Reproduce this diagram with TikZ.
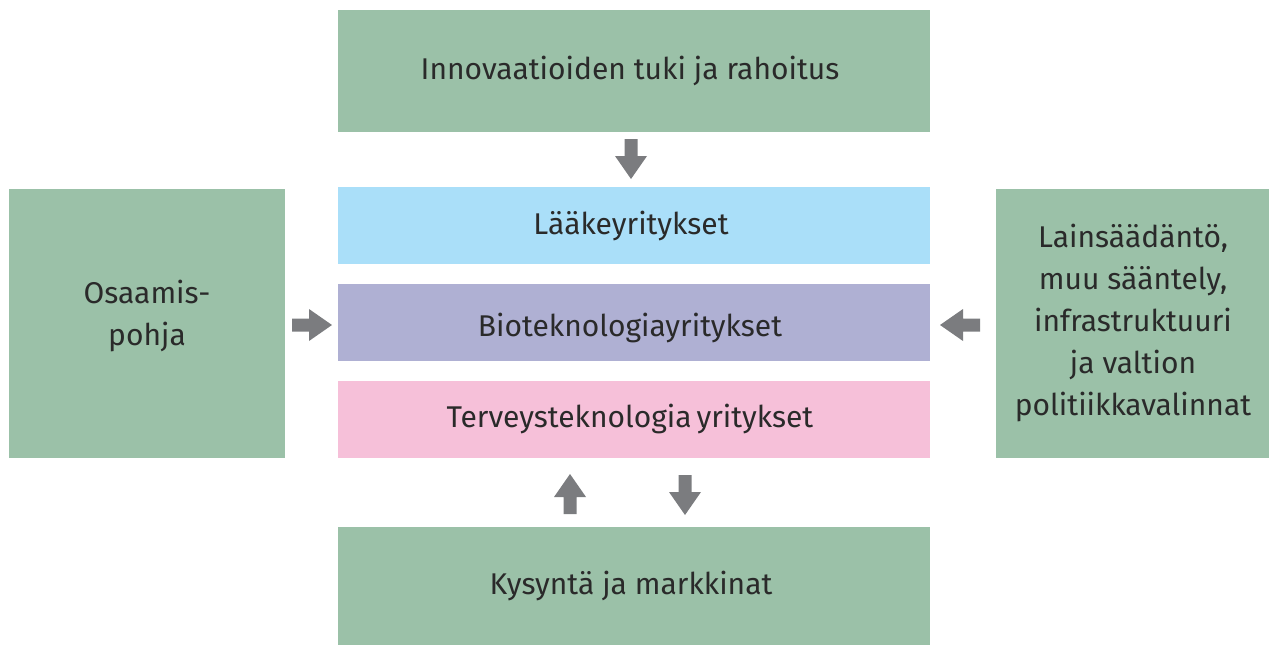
\documentclass[tikz,border=0pt]{standalone}
\usepackage{fontspec}
\setmainfont{Fira Sans}
\definecolor{boxgreen}{HTML}{9BC1A8}
\definecolor{boxblue}{HTML}{AADFF9}
\definecolor{boxlav}{HTML}{AFB0D3}
\definecolor{boxpink}{HTML}{F6C0D9}
\definecolor{arrowgray}{HTML}{7B7C7F}
\definecolor{txt}{HTML}{2A2A2A}
\begin{document}
\begin{tikzpicture}[x=1pt,y=-1pt,
  box/.style={inner sep=0pt, text=txt, font=\fontsize{30}{42}\selectfont, align=center},
  barrow/.pic={\fill[arrowgray] (-20,-6.5) -- (-3,-6.5) -- (-3,-16) -- (20,0) -- (-3,16) -- (-3,6.5) -- (-20,6.5) -- cycle;}]
\useasboundingbox (0,0) rectangle (1269,646);
\fill[boxgreen] (338,10) rectangle (930,132);
\node[box] (innov) at (630,71) {Innovaatioiden tuki ja rahoitus};
\fill[boxblue] (338,187) rectangle (930,264);
\node[box] (laake) at (631,226) {Lääkeyritykset};
\fill[boxlav] (338,284) rectangle (930,361);
\node[box] (bio) at (630,328) {Bioteknologiayritykset};
\fill[boxpink] (338,381) rectangle (930,458);
\node[box] (terv) at (630,419) {Terveysteknologia\hspace{-3pt} yritykset};
\fill[boxgreen] (338,527) rectangle (930,645);
\node[box] (kys) at (631,586) {Kysyntä ja markkinat};
\fill[boxgreen] (9,189) rectangle (285,458);
\node[box] (osa) at (147,316) {Osaamis-\\pohja};
\fill[boxgreen] (996,189) rectangle (1269,458);
\node[box] (lain) at (1133,323) {Lainsäädäntö,\\muu sääntely,\\infrastruktuuri\\ja valtion\\politiikkavalinnat};
\pic[rotate=-90] at (631,159) {barrow};
\pic at (312,325) {barrow};
\pic[rotate=180] at (960,325) {barrow};
\pic[rotate=90] at (570,494) {barrow};
\pic[rotate=-90] at (685,495) {barrow};
\end{tikzpicture}
\end{document}
